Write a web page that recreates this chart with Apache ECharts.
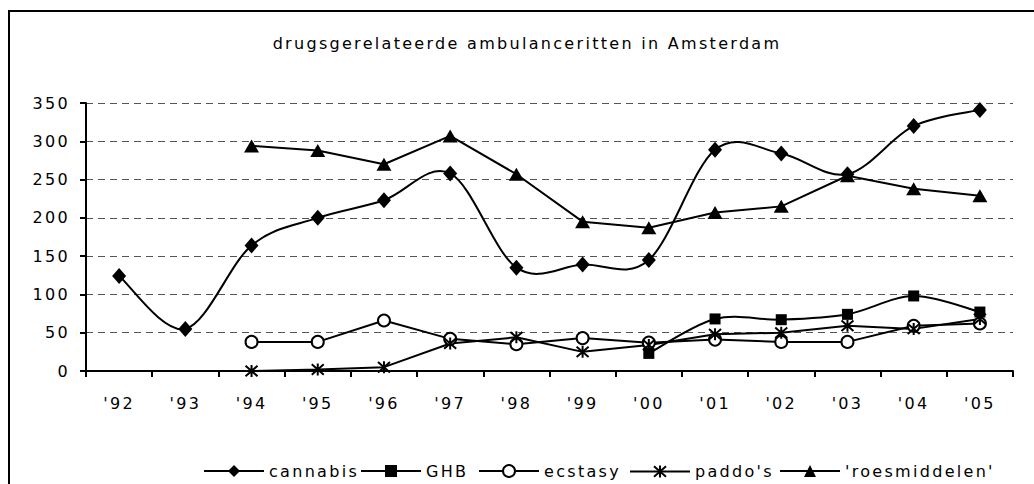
<!DOCTYPE html>
<html>
<head>
<meta charset="utf-8">
<script src="https://cdn.jsdelivr.net/npm/echarts@6/dist/echarts.min.js"></script>
<style>
  html, body { margin: 0; background: #fff; }
  #chart { width: 1034px; height: 484px; }
  /* the original is set with wide letter spacing */
  #chart text { letter-spacing: 2.3px; }
</style>
</head>
<body>
<div id="chart"></div>
<script>
const years = ["'92", "'93", "'94", "'95", "'96", "'97", "'98", "'99", "'00", "'01", "'02", "'03", "'04", "'05"]
const cannabis = [124, 55, 164, 200, 223, 258, 135, 139, 145, 289, 284, 257, 320, 341]
const ghb = [null, null, null, null, null, null, null, null, 23, 68, 67, 74, 98, 77]
const ecstasy = [null, null, 38, 38, 66, 42, 35, 43, 37, 41, 38, 38, 59, 62]
const paddos = [null, null, 0, 2, 5, 36, 44, 25, 34, 48, 50, 59, 55, 68]
const roesmiddelen = [null, null, 294, 288, 270, 307, 257, 195, 187, 207, 215, 255, 238, 229]
const yTicks = [0, 50, 100, 150, 200, 250, 300, 350]

const FONT = '"DejaVu Sans", Verdana, sans-serif'
const star = 'path://M-1,-1L1,1M-1,1L1,-1M0,-1.15L0,1.15'

const chart = echarts.init(document.getElementById('chart'), null, { renderer: 'svg' })

// Excel style smoothed line (Catmull-Rom through the data points)
function curve(name, data) {
  return {
    type: 'custom',
    name: name + '-curve',
    silent: true,
    data: [[0, 0]],
    renderItem(params, api) {
      const pts = []
      data.forEach((v, i) => {
        if (v != null) pts.push(api.coord([i, v]))
      })
      let d = 'M' + pts[0][0] + ',' + pts[0][1]
      for (let i = 0; i < pts.length - 1; i++) {
        const p0 = pts[i - 1] || pts[i]
        const p1 = pts[i]
        const p2 = pts[i + 1]
        const p3 = pts[i + 2] || p2
        const c1x = p1[0] + (p2[0] - p0[0]) / 6
        const c1y = p1[1] + (p2[1] - p0[1]) / 6
        const c2x = p2[0] - (p3[0] - p1[0]) / 6
        const c2y = p2[1] - (p3[1] - p1[1]) / 6
        d += 'C' + c1x + ',' + c1y + ' ' + c2x + ',' + c2y + ' ' + p2[0] + ',' + p2[1]
      }
      return {
        type: 'path',
        shape: { pathData: d },
        style: { fill: 'none', stroke: '#000', lineWidth: 2 },
      }
    },
  }
}

function line(name, data, symbol, symbolSize, extra) {
  return Object.assign(
    {
      name,
      type: 'line',
      data,
      symbol,
      symbolSize,
      connectNulls: false,
      lineStyle: { color: '#000', width: 2 },
      itemStyle: { color: '#000', borderColor: '#000', borderWidth: 0 },
      emphasis: { disabled: true },
    },
    extra || {},
  )
}

const hidden = { lineStyle: { color: '#000', width: 2, opacity: 0 } }

const series = [
  line('cannabis', cannabis, 'diamond', [14, 16], hidden),
  line('GHB', ghb, 'rect', 11, hidden),
  line('ecstasy', ecstasy, 'circle', 12, {
    itemStyle: { color: '#fff', borderColor: '#000', borderWidth: 2 },
  }),
  line("paddo's", paddos, star, 12, {
    itemStyle: { color: 'none', borderColor: '#000', borderWidth: 2 },
  }),
  line("'roesmiddelen'", roesmiddelen, 'triangle', [15, 13]),
]

const legendLeft = [203, 360, 478, 629, 779]

chart.setOption({
  animation: false,
  backgroundColor: '#fff',
  textStyle: { fontFamily: FONT, color: '#000' },
  title: {
    text: 'drugsgerelateerde ambulanceritten in Amsterdam',
    left: 522,
    top: 30,
    textAlign: 'center',
    textStyle: { fontFamily: FONT, fontSize: 16, fontWeight: 'normal', color: '#000' },
  },
  graphic: [
    {
      type: 'rect',
      silent: true,
      shape: { x: 9, y: 11, width: 1100, height: 600 },
      style: { fill: 'none', stroke: '#000', lineWidth: 2 },
    },
  ],
  legend: series.map((s, i) => ({
    data: [s.name],
    left: legendLeft[i],
    top: 463,
    padding: 0,
    itemWidth: 60,
    itemHeight: 15,
    selectedMode: false,
    lineStyle: { color: '#000', width: 2, opacity: 1 },
    textStyle: { fontFamily: FONT, fontSize: 16, color: '#000' },
  })),
  grid: { left: 86, right: 21, top: 103, bottom: 113, outerBoundsMode: 'none' },
  xAxis: {
    type: 'category',
    data: years,
    boundaryGap: true,
    axisLine: { lineStyle: { color: '#000', width: 2 } },
    axisTick: { show: true, interval: 0, length: 6, lineStyle: { color: '#000', width: 2 } },
    axisLabel: { interval: 0, margin: 24, fontFamily: FONT, fontSize: 16, color: '#000' },
  },
  yAxis: {
    type: 'value',
    min: yTicks[0],
    max: yTicks[yTicks.length - 1],
    interval: 50,
    axisLine: { show: true, lineStyle: { color: '#000', width: 2 } },
    axisTick: { show: true, length: 6, lineStyle: { color: '#000', width: 2 } },
    axisLabel: { margin: 16, fontFamily: FONT, fontSize: 16, color: '#000' },
    splitLine: { lineStyle: { color: '#555', width: 1, type: [7, 5] } },
  },
  series: [curve('cannabis', cannabis), curve('GHB', ghb)].concat(series),
})
</script>
</body>
</html>
